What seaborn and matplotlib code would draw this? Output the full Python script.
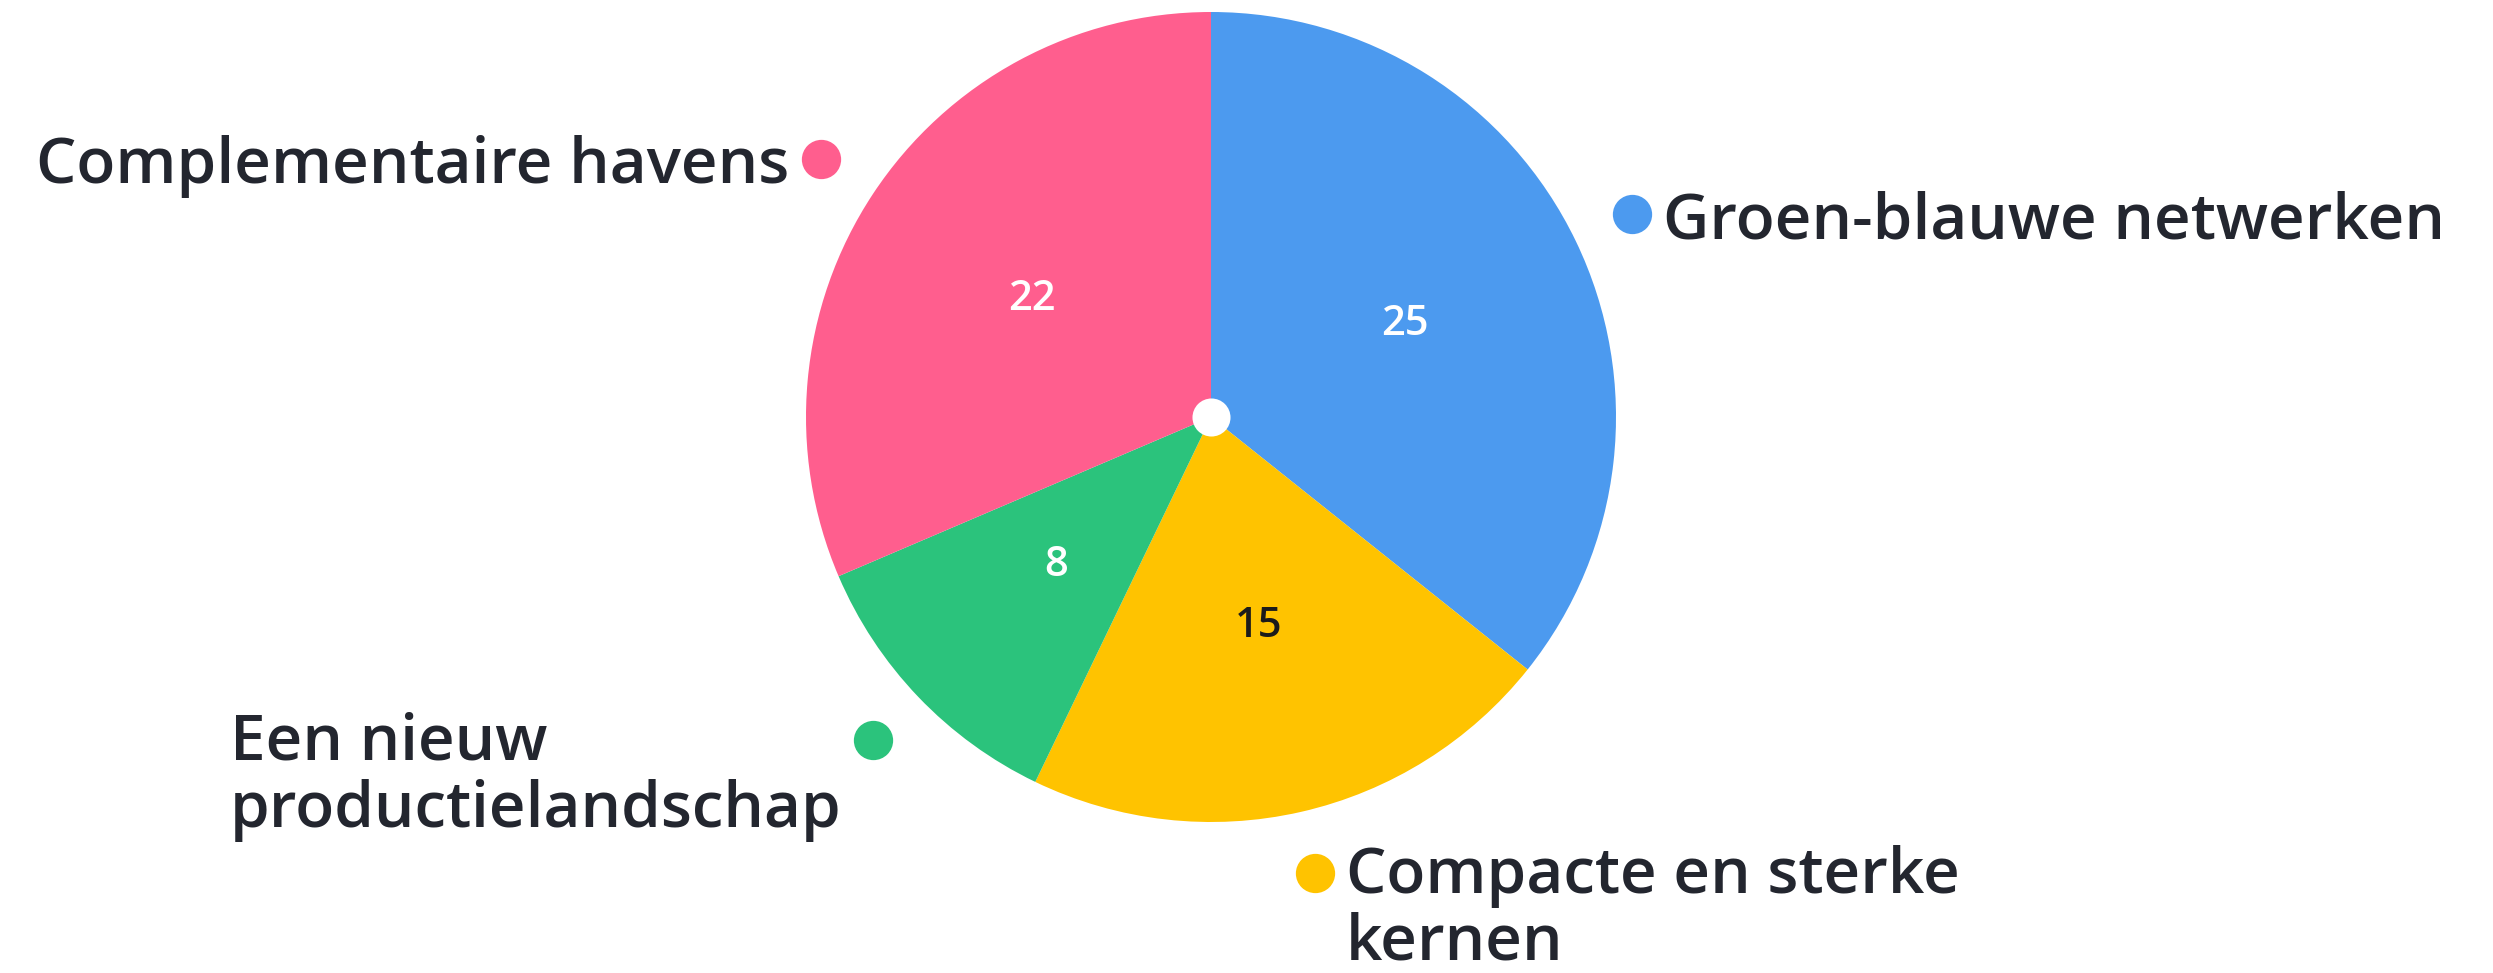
import numpy as np
import matplotlib
matplotlib.use("Agg")
import matplotlib.pyplot as plt
import seaborn as sns

categories = ["Groen-blauwe netwerken", "Compacte en sterke\nkernen",
              "Een nieuw\nproductielandschap", "Complementaire havens"]
values = [25, 15, 8, 22]
colors = ["#4C9AEF", "#FFC300", "#2BC37C", "#FF5E8E"]
value_text_colors = ["white", "#1b1b1b", "white", "white"]

sns.set_theme(style="white")
plt.rcParams["font.family"] = ["Open Sans", "DejaVu Sans"]

W, H, DPI = 2493, 973, 100
fig = plt.figure(figsize=(W / DPI, H / DPI), dpi=DPI)
fig.patch.set_facecolor("white")
ax = fig.add_axes([0, 0, 1, 1])

cx, cy, R = 1211, 417, 405  # pixel geometry of the pie
total = sum(values)

wedges, texts, autotexts = ax.pie(
    values, colors=colors, startangle=90, counterclock=False,
    radius=1, center=(0, 0),
    autopct=lambda p: f"{round(p * total / 100)}",
    pctdistance=0.53, wedgeprops=dict(linewidth=0),
    textprops=dict(fontsize=30, fontweight="semibold"),
)
for t, c in zip(autotexts, value_text_colors):
    t.set_color(c)

ax.set_xlim(-cx / R, (W - cx) / R)
ax.set_ylim(-(H - cy) / R, cy / R)
ax.set_aspect("auto")
ax.axis("off")

# centre dot
ax.scatter([0], [0], s=750, color="white", zorder=5, linewidths=0)

# outer markers with labels
dot_r = 1.155
gap = 31 / R
for w, lab, col in zip(wedges, categories, colors):
    ang = np.deg2rad((w.theta1 + w.theta2) / 2)
    x, y = dot_r * np.cos(ang), dot_r * np.sin(ang)
    ax.scatter([x], [y], s=800, color=col, zorder=5, linewidths=0)
    side = 1 if x >= 0 else -1
    nlines = lab.count("\n") + 1
    ty = y - (nlines - 1) * 27 / R
    ax.text(x + side * gap, ty, lab, ha="left" if side > 0 else "right",
            va="center_baseline", fontsize=46, color="#23262F",
            fontweight="semibold", multialignment="left", linespacing=1.08)

fig.savefig("out.png", dpi=DPI, facecolor="white")
